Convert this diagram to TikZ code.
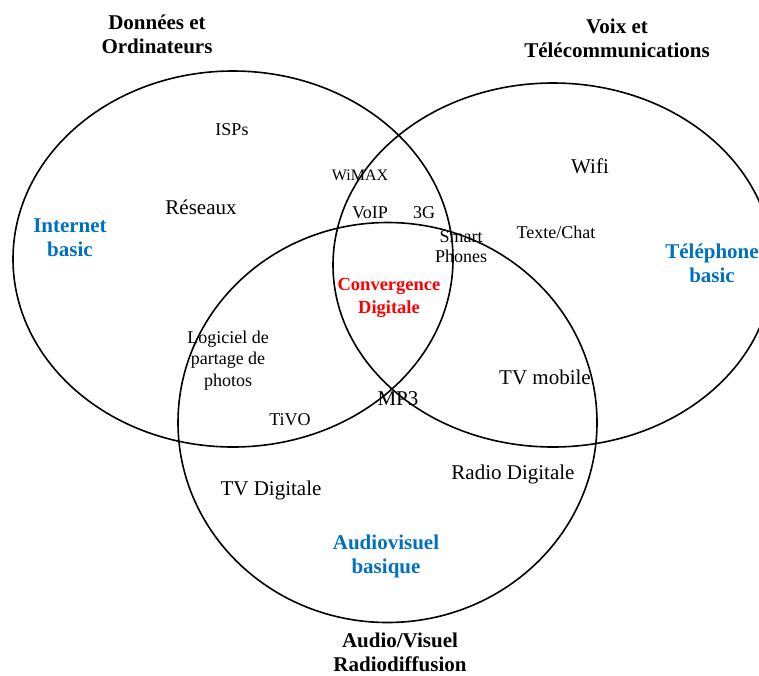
\documentclass[tikz,border=0pt]{standalone}
\usepackage{fontspec}
\setmainfont{Liberation Serif}
\definecolor{lblblue}{RGB}{0,112,192}
\definecolor{lblred}{RGB}{255,0,0}
\begin{document}
\begin{tikzpicture}[x=1pt,y=-1pt,
  ring/.style={draw=black,line width=1.6pt},
  lbl/.style={inner sep=0pt,align=center,font=\fontsize{21}{24}\selectfont},
  sml/.style={inner sep=0pt,align=center,font=\fontsize{18}{21}\selectfont},
  ttl/.style={inner sep=0pt,align=center,font=\fontsize{21}{24}\selectfont\bfseries},
  blu/.style={ttl,text=lblblue},
  rd/.style={inner sep=0pt,align=center,font=\fontsize{18.5}{23}\selectfont\bfseries,text=lblred}]
\useasboundingbox (0,0) rectangle (759,675);
\clip (0,0) rectangle (759,675);
% sets
\draw[ring] (233,259) ellipse [x radius=220, y radius=188];
\draw[ring] (553,265) ellipse [x radius=220, y radius=182];
\draw[ring] (387.5,422.5) ellipse [x radius=209.5, y radius=200];
% set titles
\node[ttl] (tdata) at (157,34) {Données et\\Ordinateurs};
\node[ttl] (tvoix) at (617,38.5) {Voix et\\Télécommunications};
\node[ttl] (taudio) at (400,652.5) {Audio/Visuel\\Radiodiffusion};
% basics
\node[blu] (inet) at (70,237.5) {Internet\\basic};
\node[blu] (tel) at (712,263) {Téléphone\\basic};
\node[blu] (av) at (386,556) {Audiovisuel\\basique};
\node[rd] (conv) at (389,297.5) {Convergence\\Digitale};
% items
\node[sml] (isps) at (232,130) {ISPs};
\node[lbl] (res) at (201,207) {Réseaux};
\node[inner sep=0pt,font=\fontsize{16}{19}\selectfont] (wimax) at (360,175) {WiMAX};
\node[sml] (voip) at (370,213) {VoIP};
\node[sml] (g3) at (424,213) {3G};
\node[sml,font=\fontsize{18}{20}\selectfont] (smart) at (461,247) {Smart\\Phones};
\node[lbl] (wifi) at (590,166) {Wifi};
\node[sml] (chat) at (556,232) {Texte/Chat};
\node[sml,font=\fontsize{18}{21.5}\selectfont] (logi) at (228,360.5) {Logiciel de\\partage de\\photos};
\node[lbl] (tvm) at (545,377) {TV mobile};
\node[lbl] (mp3) at (398,399) {MP3};
\node[sml] (tivo) at (290,420) {TiVO};
\node[lbl] (tvd) at (271,490) {TV Digitale};
\node[lbl] (radio) at (513,474) {Radio Digitale};
\end{tikzpicture}
\end{document}
